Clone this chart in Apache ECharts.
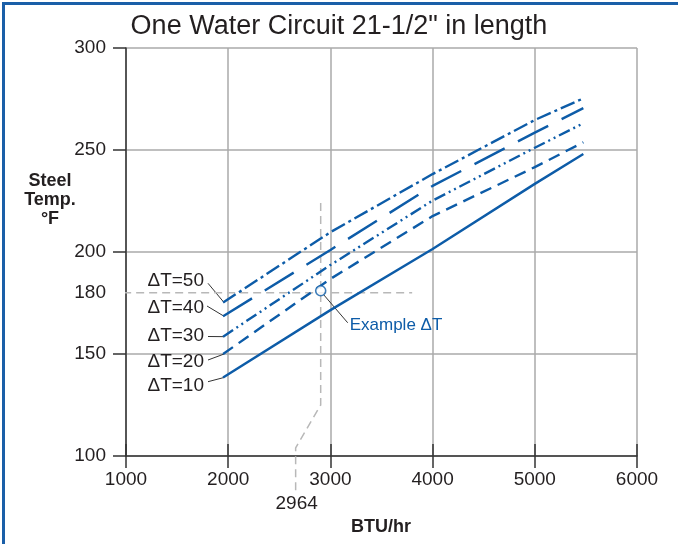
<!DOCTYPE html>
<html>
<head>
<meta charset="utf-8">
<script src="https://cdn.jsdelivr.net/npm/echarts@6/dist/echarts.min.js"></script>
<style>
  html, body { margin: 0; padding: 0; background: #fff; }
  #chart { width: 678px; height: 544px; }
</style>
</head>
<body>
<div id="chart"></div>
<script>
// curves
const btu = [1950, 3000, 4000, 5000, 5475]
const dt10 = [138.5, 171.5, 201.5, 233.4, 248]
const dt20 = [150, 186.8, 217.6, 241.6, 253.8]
const dt30 = [158.5, 193.6, 225.2, 251.1, 263.1]
const dt40 = [168.5, 201, 232.4, 258.5, 270.5]
const dt50 = [175.2, 209.7, 238.2, 264.7, 275.3]
const deltaNames = ['ΔT=10', 'ΔT=20', 'ΔT=30', 'ΔT=40', 'ΔT=50']

const yTicks = [100, 150, 200, 250, 300]
const yLabels = [100, 150, 180, 200, 250, 300]

// worked example
const examplePoint = [2905, 181]
const guideH = [[845, 180], [3800, 180]]
const guideV = [[2905, 224], [2905, 125], [2660, 104], [2660, 83]]
const guideLabel = '2964'

const BLUE = '#0d5ca8'
const INK = '#231f20'
const FONT = 'Liberation Sans, Arial, sans-serif'

const dashes = ['solid', [12, 7], [12, 4, 2, 4, 2, 4], [34, 15], [15, 4, 3, 4]]
const curves = [dt10, dt20, dt30, dt40, dt50]

const chart = echarts.init(document.getElementById('chart'))

const curveSeries = curves.map((arr, i) => ({
  name: deltaNames[i],
  type: 'line',
  data: btu.map((x, j) => [x, arr[j]]),
  symbol: 'none',
  silent: true,
  z: 5,
  lineStyle: { color: BLUE, width: 2.4, type: dashes[i], cap: 'butt' },
}))

chart.setOption({
  animation: false,
  textStyle: { fontFamily: FONT },
  title: {
    text: 'One Water Circuit 21-1/2" in length',
    left: 'center',
    top: 8,
    textStyle: { fontSize: 27, fontWeight: 'normal', color: INK, fontFamily: FONT },
  },
  grid: { left: 126, right: 41, top: 48, bottom: 88 },
  xAxis: [
    {
      type: 'value',
      min: 1000,
      max: 6000,
      interval: 1000,
      position: 'bottom',
      axisLine: { lineStyle: { color: '#333', width: 1.5 } },
      axisTick: { show: true, length: 12, lineStyle: { color: '#333', width: 1.5 } },
      axisLabel: { color: INK, fontSize: 19, margin: 14, fontFamily: FONT, formatter: v => String(v) },
      splitLine: { show: true, lineStyle: { color: '#aaa', width: 1.5 } },
    },
    {
      // inner half of the crossing ticks
      type: 'value',
      min: 1000,
      max: 6000,
      interval: 1000,
      position: 'bottom',
      axisLine: { show: false },
      axisTick: { show: true, inside: true, length: 12, lineStyle: { color: '#333', width: 1.5 } },
      axisLabel: { show: false },
      splitLine: { show: false },
    },
  ],
  yAxis: {
    type: 'value',
    min: 100,
    max: 300,
    interval: 50,
    axisLine: { show: true, lineStyle: { color: '#333', width: 1.5 } },
    axisTick: { show: true, length: 13, customValues: yTicks, lineStyle: { color: '#333', width: 1.5 } },
    axisLabel: { color: INK, fontSize: 19, margin: 20, customValues: yLabels, fontFamily: FONT },
    splitLine: { show: true, lineStyle: { color: '#aaa', width: 1.5 } },
  },
  series: [
    {
      type: 'line',
      data: guideH,
      symbol: 'none',
      clip: false,
      silent: true,
      z: 2,
      lineStyle: { color: '#b8b8b8', width: 1.5, type: [8, 5] },
    },
    {
      type: 'line',
      data: guideV,
      symbol: 'none',
      clip: false,
      silent: true,
      z: 2,
      lineStyle: { color: '#b8b8b8', width: 1.5, type: [8, 5] },
    },
    ...curveSeries,
    {
      type: 'scatter',
      data: [examplePoint],
      symbol: 'circle',
      symbolSize: 10,
      silent: true,
      z: 10,
      itemStyle: { color: '#fff', borderColor: BLUE, borderWidth: 1.6 },
    },
  ],
})

// labels, leaders and the frame
const labelY = [386, 361.7, 336, 308, 280.7]
const leadFrom = [[208, 381.7], [208, 360], [208, 336.5], [207, 306], [208, 283.3]]
const graphics = []

curves.forEach((arr, i) => {
  const p = chart.convertToPixel({ gridIndex: 0 }, [btu[0], arr[0]])
  graphics.push({
    type: 'text',
    x: 204,
    y: labelY[i],
    style: { text: deltaNames[i], fill: INK, font: '19px ' + FONT, align: 'right', verticalAlign: 'middle' },
  })
  graphics.push({
    type: 'line',
    shape: { x1: leadFrom[i][0], y1: leadFrom[i][1], x2: p[0] + 1, y2: p[1] },
    style: { stroke: '#333', lineWidth: 1 },
  })
})

const ex = chart.convertToPixel({ gridIndex: 0 }, examplePoint)
graphics.push({
  type: 'line',
  shape: { x1: ex[0] + 3, y1: ex[1] + 4, x2: ex[0] + 27, y2: ex[1] + 32 },
  style: { stroke: '#333', lineWidth: 1 },
})
graphics.push({
  type: 'text',
  x: ex[0] + 29,
  y: ex[1] + 35,
  style: { text: 'Example ΔT', fill: BLUE, font: '17px ' + FONT, align: 'left', verticalAlign: 'middle' },
})

// value under the bent guide line
const gEnd = chart.convertToPixel({ gridIndex: 0 }, guideV[guideV.length - 1])
graphics.push({
  type: 'text',
  x: gEnd[0] + 1,
  y: gEnd[1] + 13,
  style: { text: guideLabel, fill: INK, font: '19px ' + FONT, align: 'center', verticalAlign: 'middle' },
})

graphics.push({
  type: 'text',
  x: 50,
  y: 172,
  style: {
    text: 'Steel\nTemp.\n°F',
    fill: INK,
    font: 'bold 18px ' + FONT,
    align: 'center',
    verticalAlign: 'top',
    lineHeight: 19,
  },
})
graphics.push({
  type: 'text',
  x: 381,
  y: 527,
  style: { text: 'BTU/hr', fill: INK, font: 'bold 18px ' + FONT, align: 'center', verticalAlign: 'middle' },
})
graphics.push({
  type: 'polyline',
  shape: { points: [[3.5, 544], [3.5, 3.5], [678, 3.5]] },
  style: { stroke: '#1a5fa8', lineWidth: 3, fill: null },
})

chart.setOption({ graphic: graphics })
</script>
</body>
</html>
